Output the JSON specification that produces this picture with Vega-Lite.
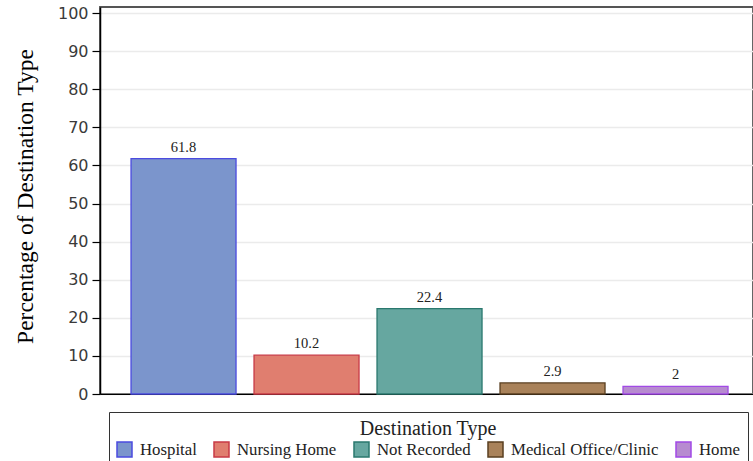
{
  "$schema": "https://vega.github.io/schema/vega-lite/v6.json",
  "width": 653,
  "height": 387,
  "autosize": "none",
  "padding": {"left": 100, "top": 7, "right": 0, "bottom": 67},
  "background": "white",
  "config": {
    "view": {"stroke": "#555555", "strokeWidth": 1.8},
    "legend": {
      "orient": "none",
      "legendX": 9,
      "legendY": 405,
      "direction": "horizontal",
      "columns": 5,
      "titleAnchor": "middle",
      "titleFont": "Liberation Serif",
      "titleFontSize": 20,
      "titleFontWeight": "normal",
      "titleColor": "#222222",
      "titlePadding": 2,
      "labelFont": "Liberation Serif",
      "labelFontSize": 16.8,
      "labelColor": "#222222",
      "labelOffset": 7,
      "columnPadding": 14,
      "symbolType": "square",
      "symbolSize": 225,
      "symbolStrokeWidth": 1.5,
      "symbolOpacity": 1,
      "strokeColor": "#333333",
      "fillColor": "white",
      "padding": 7
    }
  },
  "data": {
    "values": [
      {"dest": "Hospital", "pct": 61.8},
      {"dest": "Nursing Home", "pct": 10.2},
      {"dest": "Not Recorded", "pct": 22.4},
      {"dest": "Medical Office/Clinic", "pct": 2.9},
      {"dest": "Home", "pct": 2}
    ]
  },
  "encoding": {
    "x": {
      "field": "dest",
      "type": "nominal",
      "sort": null,
      "scale": {"paddingInner": 0.1463, "paddingOuter": 0.2277, "align": 0.554},
      "axis": {"labels": false, "ticks": false, "title": null, "grid": false, "domainColor": "black", "domainWidth": 1.2}
    },
    "y": {
      "field": "pct",
      "type": "quantitative",
      "scale": {"domain": [0, 101.6], "nice": false},
      "axis": {
        "values": [0, 10, 20, 30, 40, 50, 60, 70, 80, 90, 100],
        "tickSize": 8,
        "tickColor": "black",
        "tickWidth": 1.2,
        "domainColor": "black",
        "domainWidth": 1.5,
        "labelFont": "DejaVu Sans",
        "labelFontSize": 16,
        "labelColor": "#3a3a3a",
        "labelPadding": 4,
        "gridColor": "#ebebeb",
        "gridWidth": 1.5,
        "title": "Percentage of Destination Type",
        "titleFont": "Liberation Serif",
        "titleFontSize": 23.5,
        "titleFontWeight": "normal",
        "titleColor": "black",
        "titlePadding": 20,
        "titleY": 189
      }
    }
  },
  "layer": [
    {
      "mark": {"type": "bar", "strokeWidth": 1.3, "opacity": 1},
      "encoding": {
        "fill": {
          "field": "dest",
          "type": "nominal",
          "sort": null,
          "title": "Destination Type",
          "scale": {
            "domain": ["Hospital", "Nursing Home", "Not Recorded", "Medical Office/Clinic", "Home"],
            "range": ["#7b95cc", "#e07e6f", "#66a7a0", "#a9825a", "#b78bd0"]
          }
        },
        "stroke": {
          "field": "dest",
          "type": "nominal",
          "sort": null,
          "title": "Destination Type",
          "scale": {
            "domain": ["Hospital", "Nursing Home", "Not Recorded", "Medical Office/Clinic", "Home"],
            "range": ["#4b4bdf", "#c83a46", "#2a786e", "#5a3f20", "#a24ae6"]
          }
        }
      }
    },
    {
      "mark": {"type": "text", "baseline": "bottom", "dy": -4, "font": "Liberation Serif", "fontSize": 14.5, "color": "#222222"},
      "encoding": {"text": {"field": "pct", "type": "quantitative"}}
    }
  ]
}
